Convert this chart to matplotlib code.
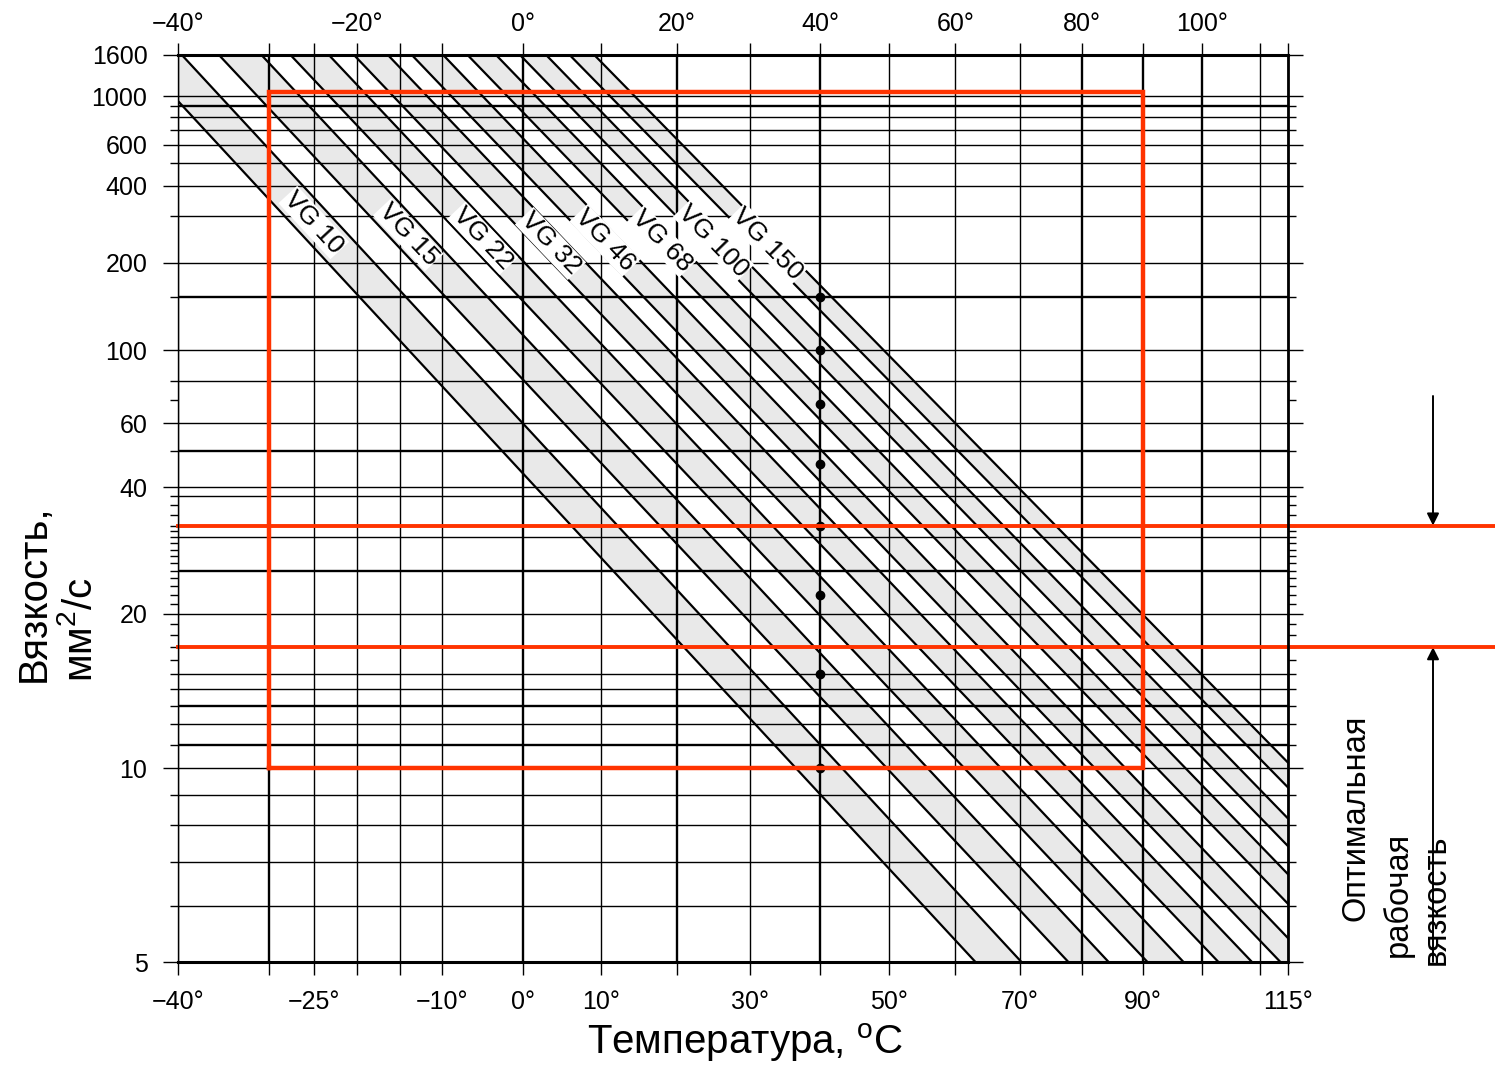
import numpy as np
import matplotlib
matplotlib.use('Agg')
import matplotlib.pyplot as plt
from matplotlib.transforms import blended_transform_factory
from matplotlib.ticker import NullFormatter

plt.rcParams['font.family'] = ['Liberation Sans', 'DejaVu Sans']
plt.rcParams['mathtext.fontset'] = 'custom'
plt.rcParams['mathtext.rm'] = 'Liberation Sans'
plt.rcParams['mathtext.it'] = 'Liberation Sans:italic'

# ---------------- data ----------------
grades = ['VG 10', 'VG 15', 'VG 22', 'VG 32', 'VG 46', 'VG 68', 'VG 100', 'VG 150']
grade_nu40 = [10, 15, 22, 32, 46, 68, 100, 150]
nu40_min = [9.0, 13.5, 19.8, 28.8, 41.4, 61.2, 90.0, 135.0]
nu40_max = [11.0, 16.5, 24.2, 35.2, 50.6, 74.8, 110.0, 165.0]
nu100_min = [2.55, 3.30, 4.19, 5.28, 6.56, 8.32, 10.43, 13.34]
nu100_max = [2.88, 3.71, 4.70, 5.93, 7.35, 9.33, 11.70, 14.92]
label_temps = [-25, -14, -5, 3.5, 10.5, 18, 25, 32.5]

temp_grid = [-40, -30, -25, -20, -15, -10, 0, 10, 20, 30, 40, 50, 60, 70, 80, 90, 100, 110, 115]
temp_bold = [-30, 0, 20, 40, 80, 90, 100]
bottom_ticks = [-40, -25, -10, 0, 10, 30, 50, 70, 90, 115]
top_ticks = [-40, -20, 0, 20, 40, 60, 80, 100]

visc_grid = [1000, 900, 800, 700, 600, 500, 400, 300, 200, 150, 100, 80, 60, 50,
             40, 38, 30, 25, 20, 15, 14, 13, 12, 11, 10, 9, 8, 7, 6]
visc_bold = [900, 150, 50, 25, 13, 11]
visc_labels = [1600, 1000, 600, 400, 200, 100, 60, 40, 20, 10, 5]
visc_minor = [36, 34, 32, 31, 29, 28, 27, 26, 24, 23, 22, 21, 19, 18, 17, 16, 70]

optimal_range = [17, 32]
box_temps = [-30, 90]
box_visc = [10, 1050]

T_LIM = (-40, 115)
NU_LIM = (5, 1600)

RED = '#ff3300'
GRAY = '#e9e9e9'


# ---------------- scales (ASTM-type chart) ----------------
def fx(t):
    with np.errstate(all='ignore'):
        return np.log10(np.asarray(t, dtype=float) + 273.15)


def fx_inv(u):
    with np.errstate(all='ignore'):
        return 10 ** np.asarray(u, dtype=float) - 273.15


def fy(v):
    with np.errstate(all='ignore'):
        return np.log10(np.log10(np.asarray(v, dtype=float) + 0.7))


def fy_inv(u):
    with np.errstate(all='ignore'):
        return 10 ** (10 ** np.asarray(u, dtype=float)) - 0.7


def line_visc(T, n40, n100):
    u1, u2 = fx(40), fx(100)
    L1, L2 = fy(n40), fy(n100)
    L = L1 + (L2 - L1) * (fx(T) - u1) / (u2 - u1)
    return fy_inv(L)


W, H = 1495, 1067
fig = plt.figure(figsize=(W / 100, H / 100), dpi=100)
fig.patch.set_facecolor('white')
ax = fig.add_axes([178 / W, (H - 962) / H, 1110 / W, 907 / H])
ax.set_xscale('function', functions=(fx, fx_inv))
ax.set_yscale('function', functions=(fy, fy_inv))

Tends = np.array(T_LIM, dtype=float)

# bands
for i, g in enumerate(grades):
    lo = line_visc(Tends, nu40_min[i], nu100_min[i])
    hi = line_visc(Tends, nu40_max[i], nu100_max[i])
    ax.fill_between(Tends, lo, hi, color=GRAY, lw=0, zorder=1)
    ax.plot(Tends, lo, color='black', lw=1.6, zorder=3)
    ax.plot(Tends, hi, color='black', lw=1.6, zorder=3)

# grid lines
for t in temp_grid:
    ax.axvline(t, color='black', lw=1.7 if t in temp_bold else 1.0, zorder=2)
for v in visc_grid:
    ax.axhline(v, color='black', lw=1.7 if v in visc_bold else 1.0, zorder=2)

ax.set_xlim(*T_LIM)
ax.set_ylim(*NU_LIM)

# grade dots at 40 C
ax.plot([40] * len(grade_nu40), grade_nu40, 'o', color='black', ms=6, zorder=4)

# grade labels
for i, g in enumerate(grades):
    T = label_temps[i]
    Tp = np.array([T - 3, T, T + 3])
    lo = line_visc(Tp, nu40_min[i], nu100_min[i])
    hi = line_visc(Tp, nu40_max[i], nu100_max[i])
    mid = fy_inv((fy(lo) + fy(hi)) / 2)
    p = ax.transData.transform(np.column_stack([Tp, mid]))
    ang = np.degrees(np.arctan2(p[2, 1] - p[0, 1], p[2, 0] - p[0, 0]))
    ax.text(T, mid[1], g, rotation=ang, rotation_mode='anchor', ha='center',
            va='center', fontsize=19, zorder=5,
            bbox=dict(fc='white', ec='none', pad=0.5))

# red box and optimum lines
bx = [box_temps[0], box_temps[1], box_temps[1], box_temps[0], box_temps[0]]
by = [box_visc[0], box_visc[0], box_visc[1], box_visc[1], box_visc[0]]
ax.plot(bx, by, color=RED, lw=3.2, zorder=6, solid_joinstyle='miter')
btr = blended_transform_factory(ax.transAxes, ax.transData)
for v in optimal_range:
    ax.plot([0, 1.3], [v, v], color=RED, lw=2.8, transform=btr, clip_on=False, zorder=6)

# axes ticks
def tlabel(t):
    return ('\u2212%d\u00b0' % abs(t)) if t < 0 else ('%d\u00b0' % t)

ax.set_xticks(bottom_ticks)
ax.set_xticklabels([tlabel(t) for t in bottom_ticks])
ax.set_xticks([t for t in temp_grid if t not in bottom_ticks], minor=True)
ax.xaxis.set_minor_formatter(NullFormatter())
ax.tick_params(axis='x', which='both', direction='out', length=9, width=1.0,
               labelsize=18, pad=11, bottom=True, top=False)

ax.set_yticks(visc_labels)
ax.set_yticklabels([str(v) for v in visc_labels])
ax.set_yticks([v for v in visc_grid + visc_minor if v not in visc_labels], minor=True)
ax.yaxis.set_minor_formatter(NullFormatter())
ax.tick_params(axis='y', which='major', direction='out', length=11, width=1.0,
               labelsize=18, pad=11, left=True, right=True)
ax.tick_params(axis='y', which='minor', direction='out', length=6, width=1.0,
               left=True, right=True)

for s, lw in [('left', 1.0), ('bottom', 2.2), ('top', 2.2), ('right', 2.0)]:
    ax.spines[s].set_linewidth(lw)
    ax.spines[s].set_zorder(7)

ax2 = ax.twiny()
ax2.set_xscale('function', functions=(fx, fx_inv))
ax2.set_xlim(*T_LIM)
ax2.set_xticks(top_ticks)
ax2.set_xticklabels([tlabel(t) for t in top_ticks])
ax2.set_xticks([t for t in temp_grid if t not in top_ticks], minor=True)
ax2.xaxis.set_minor_formatter(NullFormatter())
ax2.tick_params(axis='x', which='both', direction='out', length=9, width=1.0,
                labelsize=18, pad=5)
for s in ax2.spines.values():
    s.set_visible(False)

# axis titles
fig.text(745 / W, 1 - 1043 / H, 'Температура, $^{\\rm o}$C', ha='center', va='center',
         fontsize=29)
fig.text(34 / W, 1 - 682 / H, 'Вязкость,', rotation=90, ha='center', va='bottom',
         fontsize=29)
fig.text(80 / W, 1 - 682 / H, 'мм$^2$/с', rotation=90, ha='center', va='bottom',
         fontsize=29)

# right annotation
fig.text(1356 / W, 1 - 921 / H, 'Оптимальная', rotation=90, ha='center', va='bottom', fontsize=23.5)
fig.text(1398 / W, 1 - 957 / H, 'рабочая', rotation=90, ha='center', va='bottom', fontsize=23.5)
fig.text(1436 / W, 1 - 965 / H, 'вязкость', rotation=90, ha='center', va='bottom', fontsize=23.5)

atr = blended_transform_factory(fig.transFigure, ax.transData)
xa = 1433 / W
ax.annotate('', xy=(xa, optimal_range[1]), xycoords=atr,
            xytext=(xa, 1 - 396 / H), textcoords='figure fraction',
            arrowprops=dict(arrowstyle='-|>', color='black', lw=1.4,
                            mutation_scale=18, shrinkA=0, shrinkB=0),
            annotation_clip=False)
ax.annotate('', xy=(xa, optimal_range[0]), xycoords=atr,
            xytext=(xa, 1 - 962 / H), textcoords='figure fraction',
            arrowprops=dict(arrowstyle='-|>', color='black', lw=1.4,
                            mutation_scale=18, shrinkA=0, shrinkB=0),
            annotation_clip=False)

fig.savefig('out.png', dpi=100, facecolor='white')
